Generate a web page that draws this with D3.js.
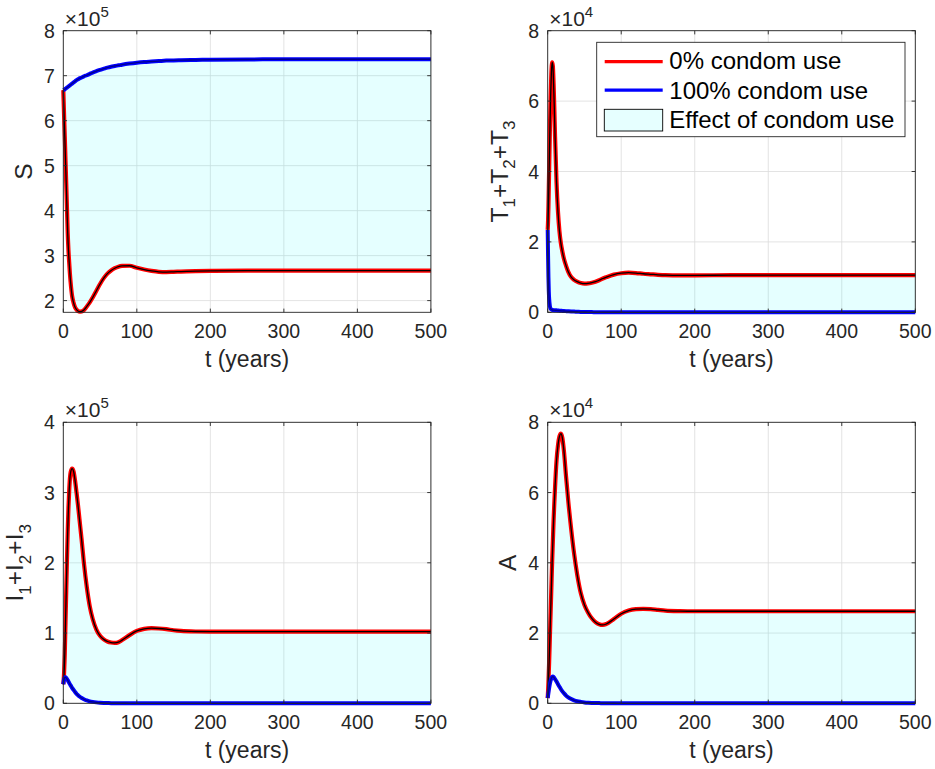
<!DOCTYPE html>
<html lang="en">
<head>
<meta charset="utf-8">
<title>Effect of condom use</title>
<script src="https://cdn.jsdelivr.net/npm/d3@7"></script>
<style>
  body { margin: 0; background: #fff; }
  text { font-family: "Liberation Sans", Arial, Helvetica, sans-serif; }
</style>
</head>
<body>
<script>

// time grid (years), shared by all four panels
var tYears = [0,0.5,1,1.5,2,3,4,5,6,7,8,9,10,12,14,16,18,20,22,25,28,32,36,40,45,50,55,60,65,70,75,80,90,100,110,120,130,140,150,160,180,200,250,300,400,500];

// S  (x 1e5)
var S0   = [6.68,6.42,6.15,5.9,5.65,5.12,4.6,4.05,3.5,3.12,2.85,2.6,2.4,2.1,1.95,1.85,1.8,1.77,1.755,1.76,1.79,1.87,1.96,2.07,2.22,2.37,2.5,2.6,2.67,2.72,2.755,2.77,2.775,2.73,2.69,2.66,2.64,2.635,2.64,2.645,2.655,2.66,2.665,2.665,2.665,2.665];
var S100 = [6.68,6.684,6.688,6.693,6.698,6.71,6.722,6.735,6.748,6.76,6.772,6.785,6.8,6.825,6.85,6.875,6.9,6.92,6.94,6.96,6.985,7.01,7.04,7.07,7.1,7.13,7.155,7.18,7.2,7.215,7.23,7.245,7.27,7.29,7.305,7.315,7.325,7.335,7.34,7.345,7.35,7.355,7.36,7.365,7.365,7.365];

// T1+T2+T3  (x 1e4)
var T0   = [2.34,2.6,3.0,3.55,4.1,5.2,6.15,6.8,7.1,7.0,6.5,5.8,5.0,3.7,2.85,2.3,1.95,1.72,1.53,1.32,1.15,1.0,0.92,0.87,0.83,0.815,0.82,0.84,0.87,0.91,0.96,1.0,1.07,1.11,1.125,1.115,1.095,1.08,1.065,1.055,1.05,1.05,1.055,1.055,1.055,1.055];
var T100 = [2.34,1.6,1.0,0.6,0.38,0.17,0.1,0.08,0.07,0.065,0.062,0.06,0.058,0.055,0.05,0.047,0.043,0.04,0.037,0.033,0.029,0.024,0.02,0.016,0.012,0.009,0.007,0.005,0.004,0.003,0.002,0.002,0.001,0.001,0,0,0,0,0,0,0,0,0,0,0,0];

// I1+I2+I3  (x 1e5)
var I0   = [0.27,0.33,0.42,0.55,0.7,1.15,1.6,2.05,2.45,2.78,3.02,3.2,3.29,3.34,3.3,3.17,3.0,2.82,2.62,2.32,2.0,1.65,1.38,1.2,1.05,0.96,0.91,0.88,0.865,0.86,0.87,0.9,0.97,1.03,1.06,1.07,1.065,1.055,1.04,1.03,1.022,1.02,1.02,1.02,1.02,1.02];
var I100 = [0.27,0.31,0.34,0.36,0.37,0.37,0.36,0.345,0.33,0.31,0.29,0.27,0.255,0.22,0.19,0.16,0.135,0.115,0.097,0.075,0.058,0.04,0.028,0.02,0.013,0.008,0.005,0.003,0.002,0.0015,0.001,0.001,0,0,0,0,0,0,0,0,0,0,0,0,0,0];

// A  (x 1e4)
var A0   = [0.15,0.35,0.6,0.9,1.2,1.9,2.6,3.3,4.0,4.6,5.2,5.7,6.15,6.9,7.35,7.6,7.68,7.55,7.2,6.45,5.75,4.95,4.25,3.68,3.14,2.8,2.58,2.42,2.31,2.25,2.23,2.26,2.4,2.55,2.64,2.68,2.69,2.68,2.66,2.64,2.625,2.62,2.62,2.62,2.62,2.62];
var A100 = [0.15,0.22,0.3,0.37,0.44,0.56,0.65,0.71,0.75,0.76,0.75,0.72,0.69,0.62,0.54,0.47,0.4,0.34,0.29,0.22,0.17,0.12,0.085,0.06,0.04,0.025,0.016,0.01,0.007,0.005,0.003,0.002,0.001,0,0,0,0,0,0,0,0,0,0,0,0,0];

var xTicks = [0,100,200,300,400,500];
var legendNames = ["0% condom use", "100% condom use", "Effect of condom use"];

// panel layout
var w = 935, h = 769;
var pw = 367.6;
var panels = [
  { red: S0, blue: S100, yDomain: [1.74, 8], yTicks: [2,3,4,5,6,7,8], exp: "5",
    left: 63.3, top: 30.7, ph: 281.6, label: [["S", 0]], legend: false },
  { red: T0, blue: T100, yDomain: [0, 8], yTicks: [0,2,4,6,8], exp: "4",
    left: 547.7, top: 30.7, ph: 281.6, label: [["T",0],["1",1],["+T",0],["2",1],["+T",0],["3",1]], legend: true },
  { red: I0, blue: I100, yDomain: [0, 4], yTicks: [0,1,2,3,4], exp: "5",
    left: 63.3, top: 422.3, ph: 281, label: [["I",0],["1",1],["+I",0],["2",1],["+I",0],["3",1]], legend: false },
  { red: A0, blue: A100, yDomain: [0, 8], yTicks: [0,2,4,6,8], exp: "4",
    left: 547.7, top: 422.3, ph: 281, label: [["A", 0]], legend: false }
];

var svg = d3.select("body").append("svg")
  .attr("width", w)
  .attr("height", h);

svg.append("rect").attr("width", w).attr("height", h).attr("fill", "#fff");

var axisColor = "#262626";

panels.forEach(function (p) {

  var x = d3.scaleLinear().domain([0, 500]).range([0, pw]);
  var y = d3.scaleLinear().domain(p.yDomain).range([p.ph, 0]);

  var g = svg.append("g").attr("transform", "translate(" + p.left + "," + p.top + ")");

  // grid
  g.selectAll(".gx").data(xTicks).enter().append("line")
    .attr("x1", function (d) { return x(d); }).attr("x2", function (d) { return x(d); })
    .attr("y1", 0).attr("y2", p.ph)
    .attr("stroke", "#dcdcdc").attr("stroke-width", 0.8);
  g.selectAll(".gy").data(p.yTicks).enter().append("line")
    .attr("x1", 0).attr("x2", pw)
    .attr("y1", function (d) { return y(d); }).attr("y2", function (d) { return y(d); })
    .attr("stroke", "#dcdcdc").attr("stroke-width", 0.8);

  var rows = tYears.map(function (t, i) { return { t: t, r: p.red[i], b: p.blue[i] }; });

  // shaded effect region between the two curves
  var area = d3.area()
    .x(function (d) { return x(d.t); })
    .y0(function (d) { return y(d.b); })
    .y1(function (d) { return y(d.r); })
    .curve(d3.curveMonotoneX);
  g.append("path").datum(rows).attr("d", area)
    .attr("fill", "#00ffff").attr("fill-opacity", 0.1).attr("stroke", "none");

  var lineR = d3.line().x(function (d) { return x(d.t); }).y(function (d) { return y(d.r); }).curve(d3.curveMonotoneX);
  var lineB = d3.line().x(function (d) { return x(d.t); }).y(function (d) { return y(d.b); }).curve(d3.curveMonotoneX);

  g.append("path").datum(rows).attr("d", lineR)
    .attr("fill", "none").attr("stroke", "#ff0000").attr("stroke-width", 4.2).attr("stroke-linejoin", "round");
  g.append("path").datum(rows).attr("d", lineR)
    .attr("fill", "none").attr("stroke", "#000").attr("stroke-width", 1.3).attr("stroke-linejoin", "round");

  g.append("path").datum(rows).attr("d", lineB)
    .attr("fill", "none").attr("stroke", "#0000ff").attr("stroke-width", 4).attr("stroke-linejoin", "round");
  g.append("path").datum(rows).attr("d", lineB)
    .attr("fill", "none").attr("stroke", "#00008c").attr("stroke-width", 1.3).attr("stroke-linejoin", "round");

  // box
  g.append("rect").attr("width", pw).attr("height", p.ph)
    .attr("fill", "none").attr("stroke", axisColor).attr("stroke-width", 0.9);

  // inward ticks on all four sides
  var tl = 3.7;
  xTicks.forEach(function (d) {
    g.append("line").attr("x1", x(d)).attr("x2", x(d)).attr("y1", p.ph).attr("y2", p.ph - tl).attr("stroke", axisColor).attr("stroke-width", 0.9);
    g.append("line").attr("x1", x(d)).attr("x2", x(d)).attr("y1", 0).attr("y2", tl).attr("stroke", axisColor).attr("stroke-width", 0.9);
  });
  p.yTicks.forEach(function (d) {
    g.append("line").attr("x1", 0).attr("x2", tl).attr("y1", y(d)).attr("y2", y(d)).attr("stroke", axisColor).attr("stroke-width", 0.9);
    g.append("line").attr("x1", pw).attr("x2", pw - tl).attr("y1", y(d)).attr("y2", y(d)).attr("stroke", axisColor).attr("stroke-width", 0.9);
  });

  // tick labels
  g.selectAll(".xl").data(xTicks).enter().append("text")
    .attr("x", function (d) { return x(d); })
    .attr("y", p.ph + 26)
    .attr("text-anchor", "middle")
    .attr("font-size", 19.5)
    .attr("fill", axisColor)
    .text(function (d) { return d; });
  g.selectAll(".yl").data(p.yTicks).enter().append("text")
    .attr("x", -8.5)
    .attr("y", function (d) { return y(d); })
    .attr("dy", "0.36em")
    .attr("text-anchor", "end")
    .attr("font-size", 19.5)
    .attr("fill", axisColor)
    .text(function (d) { return d; });

  // exponent
  var ex = g.append("text").attr("x", 1.5).attr("y", -5).attr("font-size", 21).attr("fill", axisColor);
  ex.append("tspan").text("\u00d710");
  ex.append("tspan").attr("dy", -9).attr("font-size", 15).text(p.exp);

  // x label
  g.append("text")
    .attr("x", pw / 2).attr("y", p.ph + 54.5)
    .attr("text-anchor", "middle")
    .attr("font-size", 23)
    .attr("fill", axisColor)
    .text("t (years)");

  // y label (with subscripts)
  var hasSub = p.label.length > 1;
  var yl = g.append("text")
    .attr("transform", "translate(" + (hasSub ? -40 : -31.5) + "," + (p.ph / 2) + ") rotate(-90)")
    .attr("text-anchor", "middle")
    .attr("font-size", 24.5)
    .attr("fill", axisColor);
  var shift = 0;
  p.label.forEach(function (s) {
    var ts = yl.append("tspan").text(s[0]);
    if (s[1]) { ts.attr("font-size", 17).attr("dy", 7.5); shift = 7.5; }
    else { ts.attr("dy", -shift); shift = 0; }
  });

  // legend
  if (p.legend) {
    var lg = g.append("g").attr("transform", "translate(" + (596.7 - p.left) + "," + (42.3 - p.top) + ")");
    lg.append("rect").attr("width", 308.3).attr("height", 94.4)
      .attr("fill", "#fff").attr("stroke", axisColor).attr("stroke-width", 0.9);
    lg.append("line").attr("x1", 8).attr("x2", 66).attr("y1", 19.4).attr("y2", 19.4)
      .attr("stroke", "#ff0000").attr("stroke-width", 3.2);
    lg.append("line").attr("x1", 8).attr("x2", 66).attr("y1", 47.9).attr("y2", 47.9)
      .attr("stroke", "#0000ff").attr("stroke-width", 3.2);
    lg.append("rect").attr("x", 7.6).attr("y", 67).attr("width", 58.4).attr("height", 21.7)
      .attr("fill", "#e6ffff").attr("stroke", "#000").attr("stroke-width", 0.9);
    lg.selectAll(".lt").data(legendNames).enter().append("text")
      .attr("x", 72.6)
      .attr("y", function (d, i) { return 27 + i * 29.3; })
      .attr("font-size", 24)
      .attr("fill", "#000")
      .text(function (d) { return d; });
  }
});

</script>
</body>
</html>
